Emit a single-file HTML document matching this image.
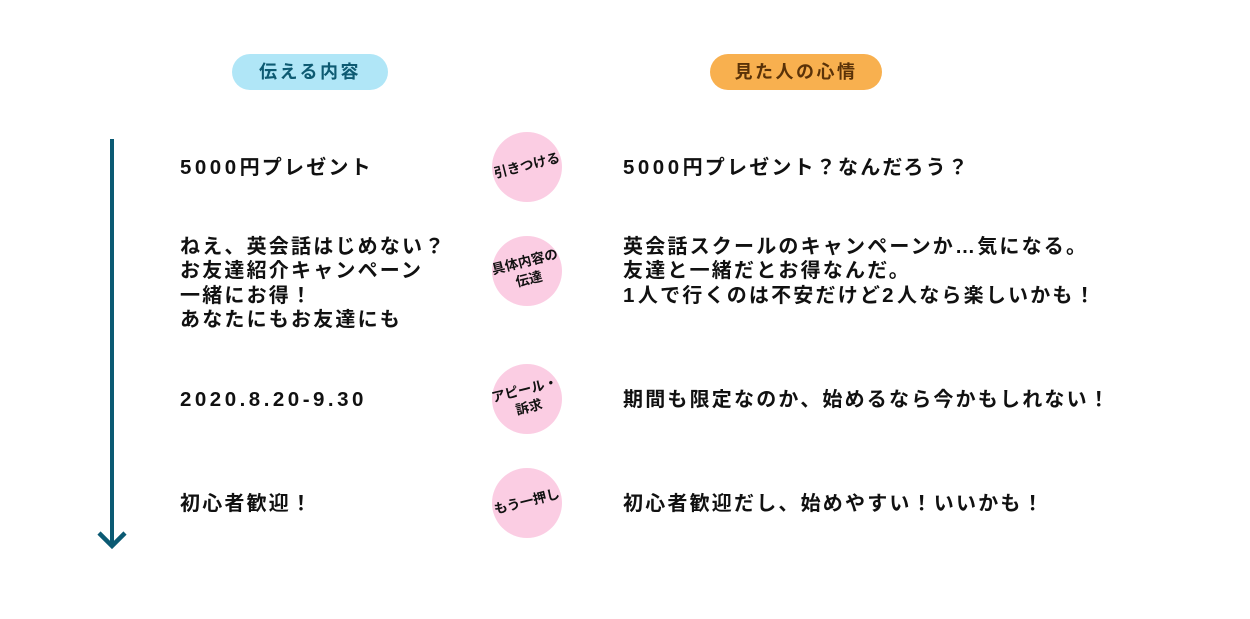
<!DOCTYPE html>
<html><head><meta charset="utf-8"><style>
body{margin:0;width:1250px;height:619px;background:#fff;position:relative;overflow:hidden;font-family:"Liberation Sans","Noto Sans CJK JP",sans-serif;}
.t{position:absolute;font-weight:bold;font-size:20px;letter-spacing:2.2px;line-height:24.3px;color:#111;white-space:nowrap;}
.d{letter-spacing:3.5px;font-size:20.5px;}
.pill{position:absolute;height:36px;line-height:36px;border-radius:18px;text-align:center;font-weight:bold;font-size:18px;letter-spacing:2.5px;top:54px;}
.c{position:absolute;left:492px;width:70px;height:70px;border-radius:50%;background:#fbcde3;}
.cl{position:absolute;left:467px;width:120px;text-align:center;font-weight:bold;font-size:13.5px;line-height:18px;color:#111;transform:rotate(-14deg);white-space:nowrap;}
</style></head><body>
<div class="pill" style="left:232px;width:156px;background:#b0e6f7;color:#0d5a72;">伝える内容</div>
<div class="pill" style="left:710px;width:172px;background:#f8b04f;color:#5a3208;">見た人の心情</div>
<svg style="position:absolute;left:0;top:0" width="1250" height="619"><line x1="112" y1="139" x2="112" y2="545" stroke="#0b5a73" stroke-width="4"/><polyline points="99,533 112,546 125,533" fill="none" stroke="#0b5a73" stroke-width="4.5"/></svg>
<div class="c" style="top:132px"></div><div class="cl" style="top:157px">引きつける</div>
<div class="c" style="top:236px"></div><div class="cl" style="top:253px">具体内容の<br>伝達</div>
<div class="c" style="top:364px"></div><div class="cl" style="top:381px">アピール・<br>訴求</div>
<div class="c" style="top:468px"></div><div class="cl" style="top:493px">もう一押し</div>
<div class="t" style="left:180px;top:156px"><span class="d">5000</span>円プレゼント</div>
<div class="t" style="left:180px;top:235px">ねえ、英会話はじめない？<br>お友達紹介キャンペーン<br>一緒にお得！<br>あなたにもお友達にも</div>
<div class="t d" style="left:180px;top:388px">2020.8.20-9.30</div>
<div class="t" style="left:180px;top:492px">初心者歓迎！</div>
<div class="t" style="left:623px;top:156px"><span class="d">5000</span>円プレゼント？なんだろう？</div>
<div class="t" style="left:623px;top:235px">英会話スクールのキャンペーンか…気になる。<br>友達と一緒だとお得なんだ。<br><span class="d">1</span>人で行くのは不安だけど<span class="d">2</span>人なら楽しいかも！</div>
<div class="t" style="left:623px;top:388px">期間も限定なのか、始めるなら今かもしれない！</div>
<div class="t" style="left:623px;top:492px">初心者歓迎だし、始めやすい！いいかも！</div>
</body></html>
